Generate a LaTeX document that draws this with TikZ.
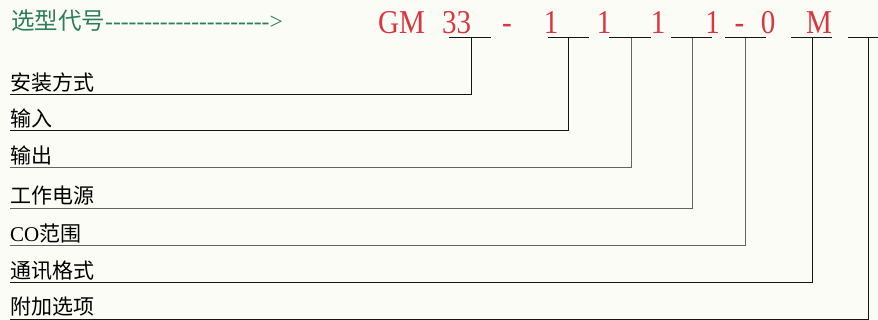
\documentclass[tikz,border=0pt]{standalone}
\usepackage{fontspec}
\setmainfont{Liberation Serif}
\newfontfamily\dashfont{Liberation Serif}
\newfontfamily\cjk{Noto Sans CJK SC}
\definecolor{bgc}{RGB}{252,252,247}
\definecolor{codered}{RGB}{217,54,62}
\definecolor{codegreen}{RGB}{46,125,90}
\definecolor{darkln}{RGB}{20,20,20}
\definecolor{grayln}{RGB}{100,100,100}
\newcommand{\redtxt}[1]{\scalebox{1}[1.15]{#1}}
\tikzset{
  lab/.style={anchor=base west, inner sep=0pt, font=\fontsize{21}{21}\selectfont},
  codech/.style={anchor=base, inner sep=0pt, text=codered, font=\fontsize{29}{29}\selectfont},
  darkw/.style={draw=darkln, line width=1pt},
  grayw/.style={draw=grayln, line width=1pt},
}
\begin{document}
\begin{tikzpicture}[x=1pt,y=-1pt]
\fill[bgc] (0,0) rectangle (878,320);
\useasboundingbox (0,0) rectangle (878,320);
% title
\node[anchor=base west, inner sep=0pt, text=codegreen, font=\fontsize{23.5}{23.5}\selectfont] (title) at (11,30)
  {{\cjk 选型代号}{\dashfont --------------------->}};
% code characters
\node[codech] (cGM) at (401.5,34) {\redtxt{GM}};
\node[codech] (c33) at (456.5,34) {\redtxt{33}};
\node[codech] (d1) at (507,34) {\redtxt{-}};
\node[codech] (c1a) at (551,34) {\redtxt{1}};
\node[codech] (c1b) at (604,34) {\redtxt{1}};
\node[codech] (c1c) at (658,34) {\redtxt{1}};
\node[codech] (c1d) at (712.5,34) {\redtxt{1}};
\node[codech] (d2) at (739.5,34) {\redtxt{-}};
\node[codech] (c0) at (768,34) {\redtxt{0}};
\node[codech] (cM) at (819,34) {\redtxt{M}};
% tee points
\coordinate (t1) at (471,38);
\coordinate (t2) at (568,38);
\coordinate (t3) at (631,38);
\coordinate (t4) at (692,38);
\coordinate (t5) at (745,38);
\coordinate (t6) at (812,38);
\coordinate (t7) at (868,38);
% short bars
\coordinate (b1l) at (449,38); \coordinate (b1r) at (491,38);
\coordinate (b2l) at (548,38); \coordinate (b2r) at (589,38);
\coordinate (b3l) at (609,38); \coordinate (b3r) at (651,38);
\coordinate (b4l) at (671,38); \coordinate (b4r) at (712,38);
\coordinate (b5l) at (725,38); \coordinate (b5r) at (766,38);
\coordinate (b6l) at (791,38); \coordinate (b6r) at (832,38);
\coordinate (b7l) at (848,38); \coordinate (b7r) at (890,38);
\draw[darkw] (b1l) -- (b1r);
\draw[darkw] (b2l) -- (b2r);
\draw[darkw] (b3l) -- (b3r);
\draw[darkw] (b4l) -- (b4r);
\draw[darkw] (b5l) -- (b5r);
\draw[darkw] (b6l) -- (b6r);
\draw[darkw] (b7l) -- (b7r);
% label line starts
\coordinate (s1) at (10,95);
\coordinate (s2) at (10,131);
\coordinate (s3) at (10,168);
\coordinate (s4) at (10,208.5);
\coordinate (s5) at (10,246);
\coordinate (s6) at (10,283);
\coordinate (s7) at (10,319);
% labels
\node[lab] (l1) at (10,90.5) {\cjk 安装方式};
\node[lab] (l2) at (10,126.5) {\cjk 输入};
\node[lab] (l3) at (10,163.5) {\cjk 输出};
\node[lab] (l4) at (10,204) {\cjk 工作电源};
\node[lab] (l5) at (10,241.5) {CO{\cjk 范围}};
\node[lab] (l6) at (10,278.5) {\cjk 通讯格式};
\node[lab] (l7) at (10,314.5) {\cjk 附加选项};
% connectors
\draw[darkw] (s1) -- (s1 -| t1) -- (t1);
\draw[darkw] (s2) -- (s2 -| t2) -- (t2);
\draw[grayw] (s3) -- (s3 -| t3) -- (t3);
\draw[grayw] (s4) -- (s4 -| t4) -- (t4);
\draw[grayw] (s5) -- (s5 -| t5) -- (t5);
\draw[darkw] (s6) -- (s6 -| t6) -- (t6);
\draw[darkw] (s7) -- (s7 -| t7) -- (t7);
\end{tikzpicture}
\end{document}
